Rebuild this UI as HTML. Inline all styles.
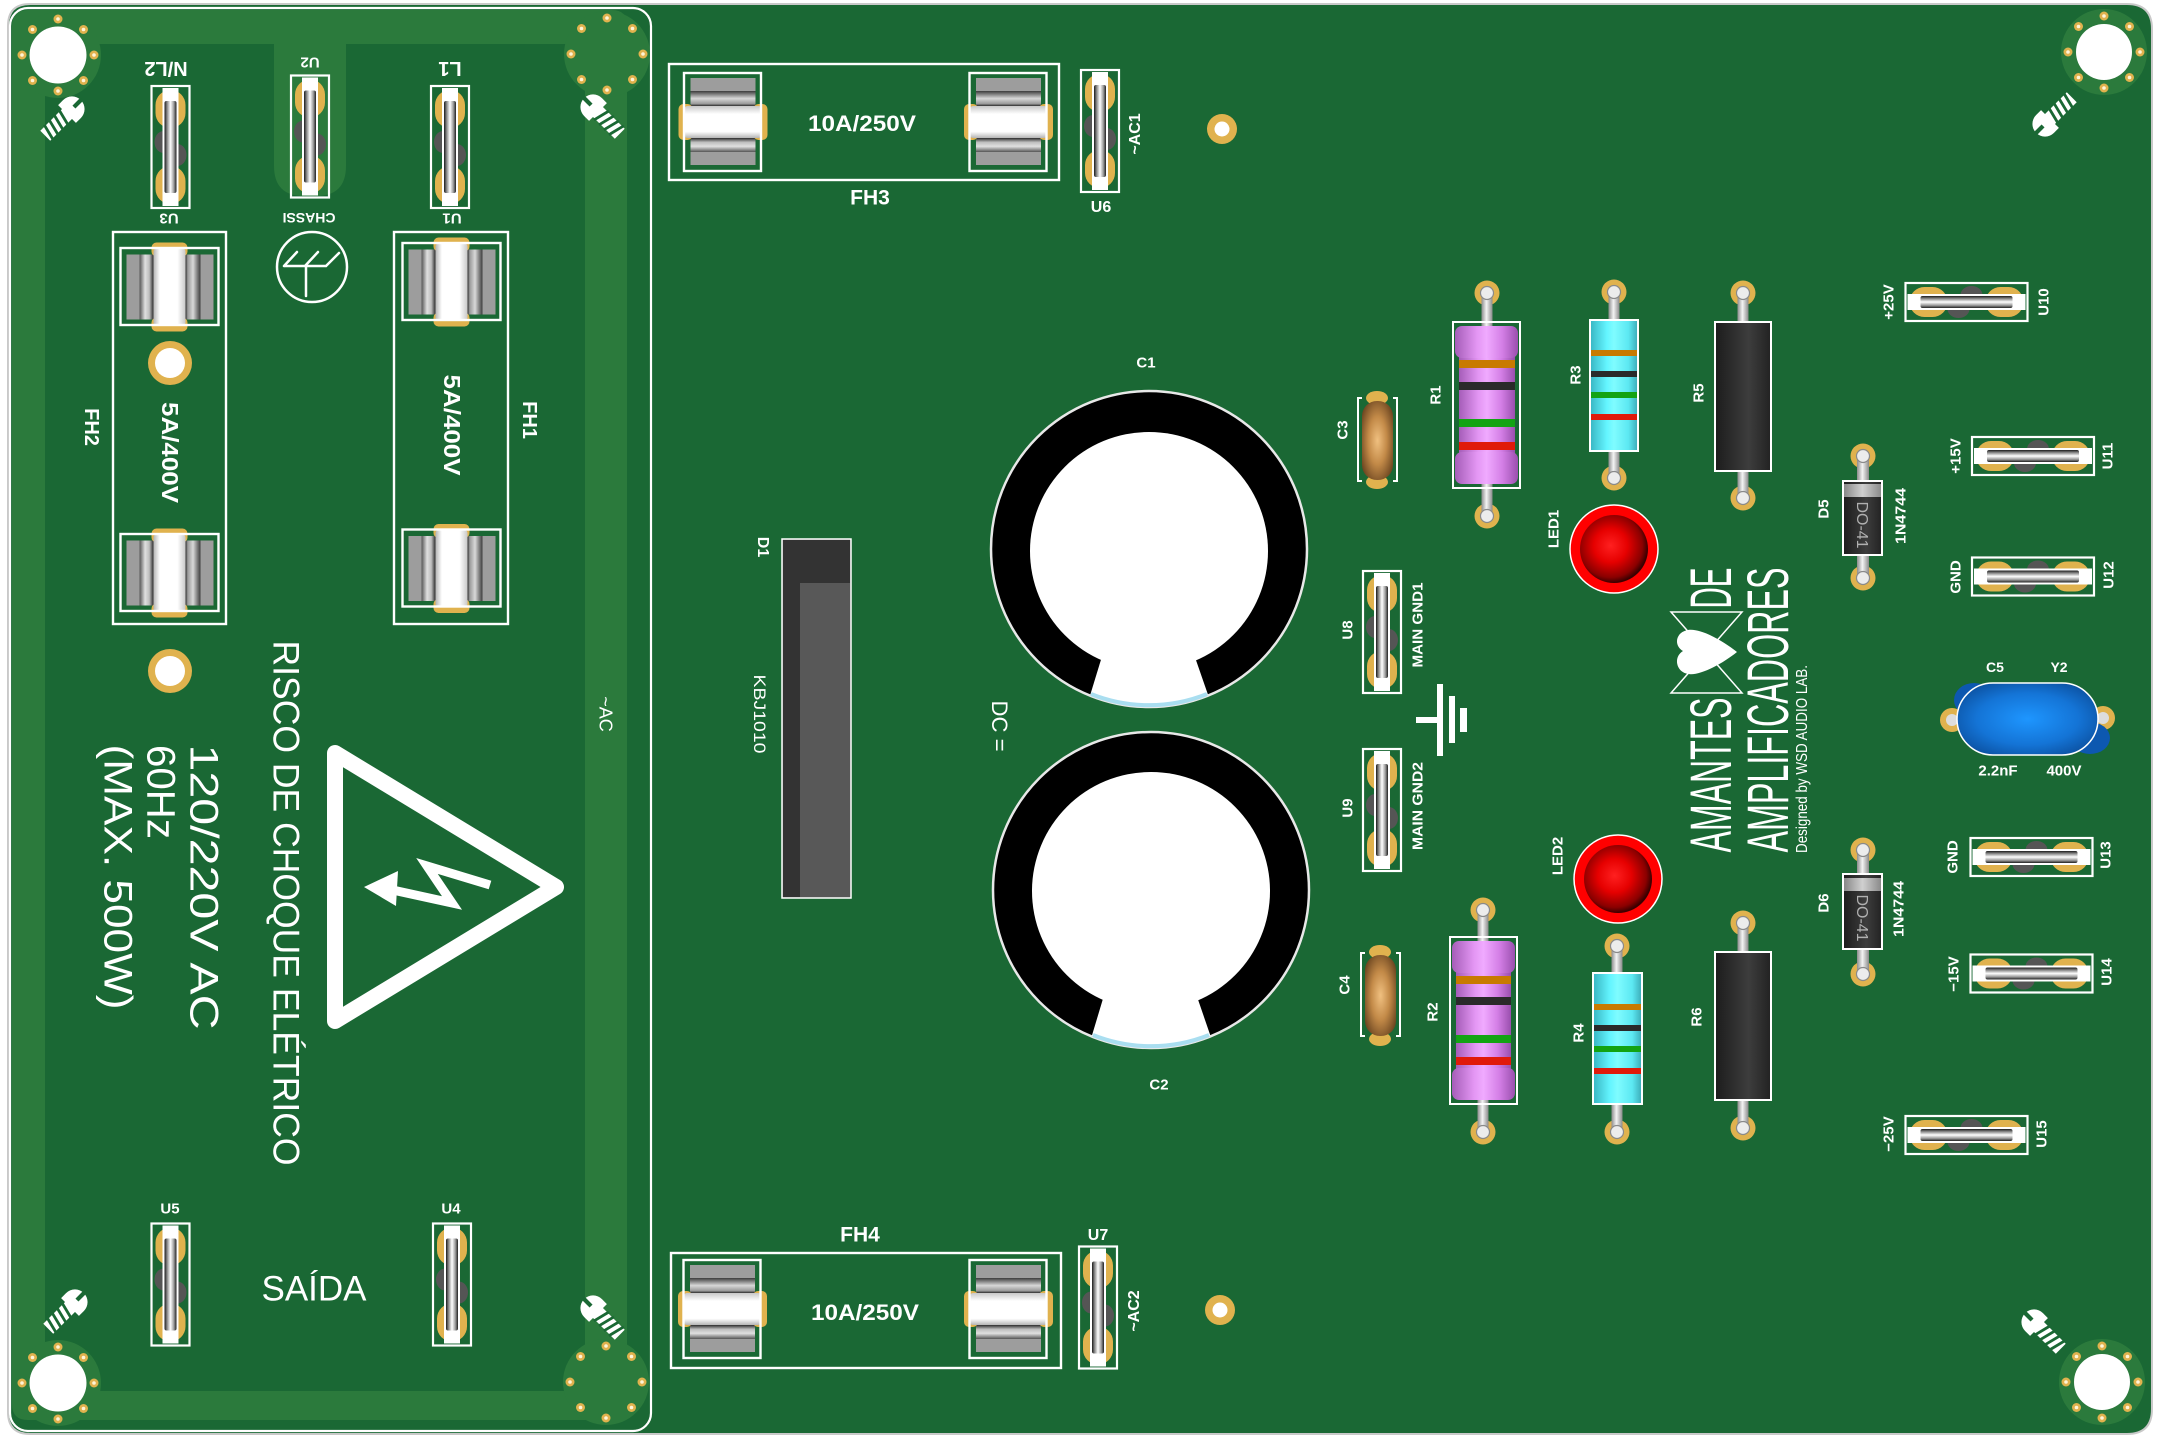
<!DOCTYPE html>
<html><head><meta charset="utf-8">
<style>
html,body{margin:0;padding:0;background:#fff;}
svg{display:block}
.b{font-family:"Liberation Sans",sans-serif;font-weight:bold;fill:#fff;text-anchor:middle}
.r{font-family:"Liberation Sans",sans-serif;font-weight:normal;fill:#fff;text-anchor:middle}
</style></head><body>
<svg width="2160" height="1439" viewBox="0 0 2160 1439" xmlns="http://www.w3.org/2000/svg">
<defs>
<linearGradient id="gBar" x1="0" y1="0" x2="1" y2="0">
 <stop offset="0" stop-color="#1a1a1a"/><stop offset=".22" stop-color="#8a8a8a"/><stop offset=".5" stop-color="#ffffff"/><stop offset=".78" stop-color="#9a9a9a"/><stop offset="1" stop-color="#1f1f1f"/>
</linearGradient>
<linearGradient id="gLead" x1="0" y1="0" x2="1" y2="0">
 <stop offset="0" stop-color="#8c8c8c"/><stop offset=".45" stop-color="#f4f4f4"/><stop offset="1" stop-color="#8a8a8a"/>
</linearGradient>
<linearGradient id="gBandT" x1="0" y1="0" x2="0" y2="1">
 <stop offset="0" stop-color="#3c3c3c"/><stop offset=".5" stop-color="#d8d8d8"/><stop offset=".85" stop-color="#9a9a9a"/><stop offset="1" stop-color="#2c2c2c"/>
</linearGradient>
<linearGradient id="gBandB" x1="0" y1="0" x2="0" y2="1">
 <stop offset="0" stop-color="#2c2c2c"/><stop offset=".3" stop-color="#bdbdbd"/><stop offset=".6" stop-color="#e0e0e0"/><stop offset="1" stop-color="#555"/>
</linearGradient>
<linearGradient id="gTube" x1="0" y1="0" x2="0" y2="1">
 <stop offset="0" stop-color="#c8c8c8"/><stop offset=".25" stop-color="#fff"/><stop offset=".8" stop-color="#fff"/><stop offset="1" stop-color="#b5b5b5"/>
</linearGradient>
<linearGradient id="gPurple" x1="0" y1="0" x2="1" y2="0">
 <stop offset="0" stop-color="#a55db8"/><stop offset=".35" stop-color="#e396f3"/><stop offset=".5" stop-color="#f0aaff"/><stop offset=".75" stop-color="#d47fe6"/><stop offset="1" stop-color="#9a4fae"/>
</linearGradient>
<linearGradient id="gCyan" x1="0" y1="0" x2="1" y2="0">
 <stop offset="0" stop-color="#37b5c2"/><stop offset=".35" stop-color="#64f5ff"/><stop offset=".5" stop-color="#7ffcff"/><stop offset=".8" stop-color="#5ce8f2"/><stop offset="1" stop-color="#3aa9b5"/>
</linearGradient>
<linearGradient id="gBlack" x1="0" y1="0" x2="1" y2="0">
 <stop offset="0" stop-color="#1c1c1c"/><stop offset=".6" stop-color="#3d3d3d"/><stop offset="1" stop-color="#222"/>
</linearGradient>
<linearGradient id="gGray" x1="0" y1="0" x2="1" y2="0">
 <stop offset="0" stop-color="#888"/><stop offset=".5" stop-color="#d0d0d0"/><stop offset="1" stop-color="#8a8a8a"/>
</linearGradient>
<radialGradient id="gLed" cx=".45" cy=".45" r=".55">
 <stop offset="0" stop-color="#ff2020"/><stop offset=".45" stop-color="#e60000"/><stop offset=".85" stop-color="#8a0000"/><stop offset="1" stop-color="#3a0000"/>
</radialGradient>
<radialGradient id="gCer" cx=".5" cy=".5" r=".6">
 <stop offset="0" stop-color="#f0c080"/><stop offset=".5" stop-color="#c38a48"/><stop offset="1" stop-color="#6b4520"/>
</radialGradient>
<radialGradient id="gBlue" cx=".5" cy=".5" r=".6">
 <stop offset="0" stop-color="#1e96ff"/><stop offset=".6" stop-color="#1474d6"/><stop offset="1" stop-color="#0b4f9e"/>
</radialGradient>
<clipPath id="cc1"><circle cx="1149" cy="549" r="157"/></clipPath>
<clipPath id="cc2"><circle cx="1151" cy="890" r="157"/></clipPath>

<g id="jv">
 <ellipse cx="-7" cy="-5" rx="9" ry="11" fill="#555"/>
 <ellipse cx="7" cy="8" rx="9" ry="11" fill="#555"/>
 <rect x="-15" y="-57" width="30" height="38" rx="15" fill="#e0b24e"/>
 <rect x="-15" y="19" width="30" height="38" rx="15" fill="#e0b24e"/>
 <rect x="-8" y="-59" width="16" height="118" fill="#fff"/>
 <rect x="-6" y="-46" width="12" height="92" rx="2" fill="url(#gBar)"/>
 <rect x="-19" y="-61" width="38" height="122" fill="none" stroke="#fff" stroke-width="2.2"/>
</g>
<g id="fc">
 <rect x="-32" y="-44" width="65" height="13" fill="#9d9d9d"/>
 <rect x="-32" y="-31" width="65" height="15" fill="url(#gBandT)"/>
 <rect x="-32" y="16" width="65" height="14" fill="url(#gBandB)"/>
 <rect x="-32" y="30" width="65" height="13" fill="#9d9d9d"/>
 <rect x="-44" y="-18" width="14" height="36" rx="5" fill="#e0b24e"/>
 <rect x="31" y="-18" width="14" height="36" rx="5" fill="#e0b24e"/>
 <rect x="-38" y="-16" width="77" height="32" rx="3" fill="url(#gTube)"/>
 <rect x="-38.5" y="-49" width="77" height="98" fill="none" stroke="#fff" stroke-width="2.4"/>
</g>
<g id="dots">
 <circle cx="36" cy="0" r="4.5" fill="#e0b24e"/><circle cx="36" cy="0" r="1.8" fill="#fff5d8"/>
 <circle cx="25.5" cy="25.5" r="4.5" fill="#e0b24e"/><circle cx="25.5" cy="25.5" r="1.8" fill="#fff5d8"/>
 <circle cx="0" cy="36" r="4.5" fill="#e0b24e"/><circle cx="0" cy="36" r="1.8" fill="#fff5d8"/>
 <circle cx="-25.5" cy="25.5" r="4.5" fill="#e0b24e"/><circle cx="-25.5" cy="25.5" r="1.8" fill="#fff5d8"/>
 <circle cx="-36" cy="0" r="4.5" fill="#e0b24e"/><circle cx="-36" cy="0" r="1.8" fill="#fff5d8"/>
 <circle cx="-25.5" cy="-25.5" r="4.5" fill="#e0b24e"/><circle cx="-25.5" cy="-25.5" r="1.8" fill="#fff5d8"/>
 <circle cx="0" cy="-36" r="4.5" fill="#e0b24e"/><circle cx="0" cy="-36" r="1.8" fill="#fff5d8"/>
 <circle cx="25.5" cy="-25.5" r="4.5" fill="#e0b24e"/><circle cx="25.5" cy="-25.5" r="1.8" fill="#fff5d8"/>
</g>
<g id="scr">
 <path d="M-2,-9 H3 A9,9 0 0 1 3,9 H-2 Z" fill="#fff"/>
 <rect x="-24" y="-5" width="23" height="10" fill="#fff"/>
 <path d="M-19,-6 L-22,6 M-14,-6 L-17,6 M-9,-6 L-12,6 M-4,-6 L-7,6" stroke="#1a6834" stroke-width="2"/>
 <rect x="5" y="-1.5" width="8" height="3" fill="#1a6834"/>
</g>
<g id="via"><circle r="15" fill="#e0b24e"/><circle r="7.5" fill="#fff"/></g>
<g id="via2"><circle r="22" fill="#e0b24e"/><circle r="15" fill="#fff"/></g>
<g id="pad"><circle r="12.5" fill="#e0b24e"/></g>
<g id="lend"><circle r="6.5" fill="#ececec" stroke="#8a8a8a" stroke-width="1.2"/></g>
</defs>

<!-- Board -->
<path d="M30,4 H2127 Q2152,4 2152,29 V1409 Q2152,1434 2127,1434 H30 Q8,1434 8,1412 V26 Q8,4 30,4 Z" fill="#1a6834" stroke="#c9c9c9" stroke-width="2"/>

<!-- Left panel light band -->
<path fill-rule="evenodd" fill="#2b7a3c" d="M28,10 H612 Q627,10 627,25 V1405 Q627,1420 612,1420 H28 Q12,1420 12,1404 V26 Q12,10 28,10 Z M45,44 V1391 H585 V44 Z"/>
<path fill="#2b7a3c" d="M274,40 V166 Q274,196 304,196 H316 Q346,196 346,166 V40 Z"/>
<rect x="10" y="8" width="641" height="1423" rx="18" fill="none" stroke="#fff" stroke-width="2.2"/>

<!-- mounting holes -->
<g transform="translate(58,55)"><circle r="43" fill="#2b7a3c"/><circle r="28.5" fill="#fff"/><use href="#dots"/></g>
<g transform="translate(607,54)"><circle r="43" fill="#2b7a3c"/><use href="#dots"/></g>
<g transform="translate(58,1383)"><circle r="43" fill="#2b7a3c"/><circle r="28.5" fill="#fff"/><use href="#dots"/></g>
<g transform="translate(606,1382)"><circle r="43" fill="#2b7a3c"/><use href="#dots"/></g>
<g transform="translate(2104,52)"><circle r="43" fill="#2b7a3c"/><circle r="28" fill="#fff"/><use href="#dots"/></g>
<g transform="translate(2102,1382)"><circle r="43" fill="#2b7a3c"/><circle r="28" fill="#fff"/><use href="#dots"/></g>

<!-- screws -->
<use href="#scr" transform="translate(69,112) rotate(-45) scale(1.4)"/>
<use href="#scr" transform="translate(596,110) rotate(-135) scale(1.4)"/>
<use href="#scr" transform="translate(2048,121) rotate(135) scale(1.4)"/>
<use href="#scr" transform="translate(72,1305) rotate(-45) scale(1.4)"/>
<use href="#scr" transform="translate(596,1311) rotate(-135) scale(1.4)"/>
<use href="#scr" transform="translate(2037,1325) rotate(-135) scale(1.4)"/>

<!-- Left panel jumpers -->
<use href="#jv" transform="translate(170.5,147)"/>
<use href="#jv" transform="translate(310,136.5)"/>
<use href="#jv" transform="translate(450,147)"/>
<use href="#jv" transform="translate(170.5,1284.5)"/>
<use href="#jv" transform="translate(452,1284.5)"/>

<text class="b" font-size="20" transform="translate(166,69) rotate(180)" dy=".36em">N/L2</text>
<text class="b" font-size="15" transform="translate(310,63) rotate(180)" dy=".36em">U2</text>
<text class="b" font-size="20" transform="translate(450,69) rotate(180)" dy=".36em">L1</text>
<text class="b" font-size="15" transform="translate(169,219) rotate(180)" dy=".36em">U3</text>
<text class="b" font-size="14" transform="translate(309,218) rotate(180)" dy=".36em">CHASSI</text>
<text class="b" font-size="15" transform="translate(452,219) rotate(180)" dy=".36em">U1</text>
<text class="b" font-size="15" x="170" y="1208" dy=".36em">U5</text>
<text class="b" font-size="15" x="451" y="1208" dy=".36em">U4</text>

<!-- chassis symbol -->
<g fill="none" stroke="#fff" stroke-width="2.5" stroke-linecap="round">
 <circle cx="312" cy="267" r="35"/>
 <path d="M284,266 H326 M306,266 V296 M284,266 L297,252 M326,266 L339,253 M305,266 L318,252"/>
</g>

<!-- FH2 / FH1 -->
<rect x="113" y="232" width="113" height="392" fill="none" stroke="#fff" stroke-width="2.4"/>
<use href="#fc" transform="translate(169.5,286.5) rotate(90)"/>
<use href="#fc" transform="translate(169.5,572.5) rotate(90)"/>
<use href="#via2" transform="translate(170,363)"/>
<use href="#via2" transform="translate(170,671)"/>
<text class="b" font-size="23" transform="translate(170.5,452.5) rotate(90)" dy=".36em" textLength="101" lengthAdjust="spacingAndGlyphs">5A/400V</text>
<text class="b" font-size="20" transform="translate(92,427) rotate(90)" dy=".36em">FH2</text>

<rect x="394" y="232" width="114" height="392" fill="none" stroke="#fff" stroke-width="2.4"/>
<use href="#fc" transform="translate(451.5,281.5) rotate(90)"/>
<use href="#fc" transform="translate(451.5,568) rotate(90)"/>
<text class="b" font-size="23" transform="translate(452.5,425) rotate(90)" dy=".36em" textLength="101" lengthAdjust="spacingAndGlyphs">5A/400V</text>
<text class="b" font-size="20" transform="translate(530,420) rotate(90)" dy=".36em">FH1</text>

<!-- warning -->
<path d="M335,753 L335,1021 L556,887 Z" fill="none" stroke="#fff" stroke-width="16" stroke-linejoin="round"/>
<polyline points="388,889 452,903 427,866 490,885" fill="none" stroke="#fff" stroke-width="9" stroke-linejoin="miter"/>
<polygon points="364,887 398,871 396,906" fill="#fff"/>

<text class="r" font-size="37" transform="translate(287,903) rotate(90)" dy=".36em" textLength="525" lengthAdjust="spacingAndGlyphs">RISCO DE CHOQUE ELÉTRICO</text>
<text class="r" font-size="40" transform="translate(205,887) rotate(90)" dy=".36em" textLength="285" lengthAdjust="spacingAndGlyphs">120/220V  AC</text>
<text class="r" font-size="40" transform="translate(162,792) rotate(90)" dy=".36em" textLength="94" lengthAdjust="spacingAndGlyphs">60Hz</text>
<text class="r" font-size="40" transform="translate(119,877) rotate(90)" dy=".36em" textLength="265" lengthAdjust="spacingAndGlyphs">(MAX. 500W)</text>
<text class="r" font-size="35" x="314" y="1288" dy=".36em" textLength="105" lengthAdjust="spacingAndGlyphs">SAÍDA</text>
<text class="r" font-size="18" transform="translate(606,714) rotate(90)" dy=".36em">~AC</text>

<!-- FH3 / FH4 -->
<rect x="669" y="64" width="390" height="116" fill="none" stroke="#fff" stroke-width="2.4"/>
<use href="#fc" transform="translate(722.5,122)"/>
<use href="#fc" transform="translate(1008,122)"/>
<text class="b" font-size="22" x="862" y="123" dy=".36em" textLength="108" lengthAdjust="spacingAndGlyphs">10A/250V</text>
<text class="b" font-size="21" x="870" y="197" dy=".36em">FH3</text>
<use href="#jv" transform="translate(1100,131)"/>
<text class="b" font-size="16" x="1101" y="206" dy=".36em">U6</text>
<text class="b" font-size="16" transform="translate(1134,134) rotate(-90)" dy=".36em">~AC1</text>
<use href="#via" transform="translate(1222,129)"/>

<rect x="671" y="1253" width="390" height="115" fill="none" stroke="#fff" stroke-width="2.4"/>
<use href="#fc" transform="translate(722,1309)"/>
<use href="#fc" transform="translate(1008,1309)"/>
<text class="b" font-size="22" x="865" y="1312" dy=".36em" textLength="108" lengthAdjust="spacingAndGlyphs">10A/250V</text>
<text class="b" font-size="21" x="860" y="1234" dy=".36em">FH4</text>
<use href="#jv" transform="translate(1098,1307.5)"/>
<text class="b" font-size="16" x="1098" y="1234" dy=".36em">U7</text>
<text class="b" font-size="16" transform="translate(1133,1311) rotate(-90)" dy=".36em">~AC2</text>
<use href="#via" transform="translate(1220,1310)"/>

<!-- D1 bridge -->
<rect x="782" y="539" width="69" height="359" fill="#585858" stroke="#fff" stroke-width="1.5"/>
<rect x="783" y="540" width="17" height="357" fill="#333"/>
<rect x="800" y="540" width="50" height="43" fill="#333"/>
<text class="b" font-size="16" transform="translate(764,547) rotate(90)" dy=".36em">D1</text>
<text class="r" font-size="17" transform="translate(760,714) rotate(90)" dy=".36em" textLength="79" lengthAdjust="spacingAndGlyphs">KBJ1010</text>
<text class="r" font-size="22" transform="translate(1000,726) rotate(90)" dy=".36em" textLength="51" lengthAdjust="spacingAndGlyphs">DC =</text>

<!-- C1 -->
<circle cx="1149" cy="549" r="158" fill="#000" stroke="#e8e8e8" stroke-width="2.5"/>
<circle cx="1149" cy="551" r="119" fill="#fff"/>
<polygon points="1107,640 1189,640 1214,712 1085,712" fill="#fff" clip-path="url(#cc1)"/>
<path d="M1091,694 A156,156 0 0 0 1207,694" fill="none" stroke="#a9def0" stroke-width="4"/>
<text class="b" font-size="15" x="1146" y="362" dy=".36em">C1</text>
<!-- C2 -->
<circle cx="1151" cy="890" r="158" fill="#000" stroke="#e8e8e8" stroke-width="2.5"/>
<circle cx="1151" cy="891" r="119" fill="#fff"/>
<polygon points="1108,982 1192,982 1216,1052 1087,1052" fill="#fff" clip-path="url(#cc2)"/>
<path d="M1093,1035 A156,156 0 0 0 1209,1035" fill="none" stroke="#a9def0" stroke-width="4"/>
<text class="b" font-size="15" x="1159" y="1084" dy=".36em">C2</text>

<!-- ground symbol -->
<rect x="1437" y="684" width="6" height="72" fill="#fff"/>
<rect x="1416" y="717" width="21" height="6" fill="#fff"/>
<rect x="1449" y="696" width="6" height="47" fill="#fff"/>
<rect x="1460" y="708" width="7" height="24" fill="#fff"/>

<!-- U8 U9 -->
<use href="#jv" transform="translate(1382,632)"/>
<use href="#jv" transform="translate(1382,810)"/>
<text class="b" font-size="15" transform="translate(1347,630) rotate(-90)" dy=".36em">U8</text>
<text class="b" font-size="15" transform="translate(1417,625) rotate(-90)" dy=".36em" textLength="85" lengthAdjust="spacingAndGlyphs">MAIN  GND1</text>
<text class="b" font-size="15" transform="translate(1347,808) rotate(-90)" dy=".36em">U9</text>
<text class="b" font-size="15" transform="translate(1417,806) rotate(-90)" dy=".36em" textLength="88" lengthAdjust="spacingAndGlyphs">MAIN  GND2</text>

<!-- C3 C4 -->
<ellipse cx="1377" cy="398" rx="11" ry="7" fill="#e0b24e"/>
<ellipse cx="1377" cy="482" rx="11" ry="7" fill="#e0b24e"/>
<rect x="1362" y="401" width="31" height="79" rx="15" fill="url(#gCer)"/>
<path d="M1362,398 H1358 V481 H1362 M1393,398 H1397 V481 H1393" fill="none" stroke="#fff" stroke-width="2"/>
<text class="b" font-size="15" transform="translate(1342,430) rotate(-90)" dy=".36em">C3</text>

<ellipse cx="1380" cy="952" rx="11" ry="7" fill="#e0b24e"/>
<ellipse cx="1380" cy="1039" rx="11" ry="7" fill="#e0b24e"/>
<rect x="1365" y="955" width="31" height="81" rx="15" fill="url(#gCer)"/>
<path d="M1365,953 H1361 V1036 H1365 M1396,953 H1400 V1036 H1396" fill="none" stroke="#fff" stroke-width="2"/>
<text class="b" font-size="15" transform="translate(1344,985) rotate(-90)" dy=".36em">C4</text>

<!-- R1 -->
<use href="#pad" transform="translate(1487,293)"/><use href="#pad" transform="translate(1487,516)"/>
<rect x="1481.5" y="293" width="11" height="40" fill="url(#gLead)"/>
<rect x="1481.5" y="478" width="11" height="38" fill="url(#gLead)"/>
<use href="#lend" transform="translate(1487,293)"/><use href="#lend" transform="translate(1487,516)"/>
<rect x="1453" y="322" width="67" height="166" fill="none" stroke="#fff" stroke-width="2"/>
<rect x="1459" y="352" width="56" height="106" fill="url(#gPurple)"/>
<rect x="1455" y="326" width="63" height="32" rx="7" fill="url(#gPurple)"/>
<rect x="1455" y="452" width="63" height="32" rx="7" fill="url(#gPurple)"/>
<rect x="1459" y="360" width="56" height="8" fill="#c87a00"/>
<rect x="1459" y="382" width="56" height="8" fill="#2a2a2a"/>
<rect x="1459" y="419" width="56" height="8" fill="#13a313"/>
<rect x="1459" y="442" width="56" height="8" fill="#e01a0a"/>
<text class="b" font-size="15" transform="translate(1435,395) rotate(-90)" dy=".36em">R1</text>

<!-- R2 -->
<use href="#pad" transform="translate(1483,910)"/><use href="#pad" transform="translate(1483,1132)"/>
<rect x="1477.5" y="910" width="11" height="40" fill="url(#gLead)"/>
<rect x="1477.5" y="1094" width="11" height="38" fill="url(#gLead)"/>
<use href="#lend" transform="translate(1483,910)"/><use href="#lend" transform="translate(1483,1132)"/>
<rect x="1450" y="937" width="67" height="167" fill="none" stroke="#fff" stroke-width="2"/>
<rect x="1456" y="968" width="55" height="106" fill="url(#gPurple)"/>
<rect x="1452" y="941" width="63" height="32" rx="7" fill="url(#gPurple)"/>
<rect x="1452" y="1068" width="63" height="32" rx="7" fill="url(#gPurple)"/>
<rect x="1456" y="976" width="55" height="8" fill="#c87a00"/>
<rect x="1456" y="997" width="55" height="8" fill="#2a2a2a"/>
<rect x="1456" y="1035" width="55" height="8" fill="#13a313"/>
<rect x="1456" y="1057" width="55" height="8" fill="#e01a0a"/>
<text class="b" font-size="15" transform="translate(1432,1012) rotate(-90)" dy=".36em">R2</text>

<!-- R3 -->
<use href="#pad" transform="translate(1614,292)"/><use href="#pad" transform="translate(1614,478)"/>
<rect x="1608.5" y="292" width="11" height="30" fill="url(#gLead)"/>
<rect x="1608.5" y="450" width="11" height="28" fill="url(#gLead)"/>
<use href="#lend" transform="translate(1614,292)"/><use href="#lend" transform="translate(1614,478)"/>
<rect x="1590" y="320" width="48" height="131" fill="url(#gCyan)" stroke="#fff" stroke-width="2"/>
<rect x="1591" y="350" width="46" height="6" fill="#c87a00"/>
<rect x="1591" y="371" width="46" height="6" fill="#2a2a2a"/>
<rect x="1591" y="392" width="46" height="6" fill="#13a313"/>
<rect x="1591" y="414" width="46" height="6" fill="#e01a0a"/>
<text class="b" font-size="15" transform="translate(1575,375) rotate(-90)" dy=".36em">R3</text>

<!-- R4 -->
<use href="#pad" transform="translate(1617,946)"/><use href="#pad" transform="translate(1617,1132)"/>
<rect x="1611.5" y="946" width="11" height="28" fill="url(#gLead)"/>
<rect x="1611.5" y="1103" width="11" height="29" fill="url(#gLead)"/>
<use href="#lend" transform="translate(1617,946)"/><use href="#lend" transform="translate(1617,1132)"/>
<rect x="1593" y="973" width="49" height="131" fill="url(#gCyan)" stroke="#fff" stroke-width="2"/>
<rect x="1594" y="1004" width="47" height="6" fill="#c87a00"/>
<rect x="1594" y="1025" width="47" height="6" fill="#2a2a2a"/>
<rect x="1594" y="1046" width="47" height="6" fill="#13a313"/>
<rect x="1594" y="1068" width="47" height="6" fill="#e01a0a"/>
<text class="b" font-size="15" transform="translate(1578,1033) rotate(-90)" dy=".36em">R4</text>

<!-- R5 -->
<use href="#pad" transform="translate(1743,293)"/><use href="#pad" transform="translate(1743,498)"/>
<rect x="1737.5" y="293" width="11" height="30" fill="url(#gLead)"/>
<rect x="1737.5" y="470" width="11" height="28" fill="url(#gLead)"/>
<use href="#lend" transform="translate(1743,293)"/><use href="#lend" transform="translate(1743,498)"/>
<rect x="1715" y="322" width="56" height="149" fill="url(#gBlack)" stroke="#fff" stroke-width="2"/>
<text class="b" font-size="15" transform="translate(1698,393) rotate(-90)" dy=".36em">R5</text>

<!-- R6 -->
<use href="#pad" transform="translate(1743,923)"/><use href="#pad" transform="translate(1743,1128)"/>
<rect x="1737.5" y="923" width="11" height="30" fill="url(#gLead)"/>
<rect x="1737.5" y="1099" width="11" height="29" fill="url(#gLead)"/>
<use href="#lend" transform="translate(1743,923)"/><use href="#lend" transform="translate(1743,1128)"/>
<rect x="1715" y="952" width="56" height="148" fill="url(#gBlack)" stroke="#fff" stroke-width="2"/>
<text class="b" font-size="15" transform="translate(1696,1017) rotate(-90)" dy=".36em">R6</text>

<!-- LEDs -->
<circle cx="1614" cy="549" r="44" fill="#ff0000" stroke="#fff" stroke-width="1.5"/>
<circle cx="1614" cy="549" r="34" fill="url(#gLed)"/>
<text class="b" font-size="15" transform="translate(1553,529) rotate(-90)" dy=".36em">LED1</text>
<circle cx="1618" cy="879" r="44" fill="#ff0000" stroke="#fff" stroke-width="1.5"/>
<circle cx="1618" cy="879" r="34" fill="url(#gLed)"/>
<text class="b" font-size="15" transform="translate(1557,856) rotate(-90)" dy=".36em">LED2</text>

<!-- Logo -->
<g fill="none" stroke="#fff" stroke-width="1.5">
 <path d="M1671,612 H1742 L1671,693 H1742 Z"/>
</g>
<path d="M1737,652 C1722,640 1700,628 1688,630 C1676,632 1673,645 1683,651 C1673,657 1676,672 1688,674 C1700,676 1722,664 1737,652 Z" fill="#fff"/>
<text class="r" font-size="58" transform="translate(1710,588) rotate(-90)" dy=".36em" textLength="41" lengthAdjust="spacingAndGlyphs">DE</text>
<text class="r" font-size="58" transform="translate(1710,775) rotate(-90)" dy=".36em" textLength="155" lengthAdjust="spacingAndGlyphs">AMANTES</text>
<text class="r" font-size="58" transform="translate(1767,710) rotate(-90)" dy=".36em" textLength="285" lengthAdjust="spacingAndGlyphs">AMPLIFICADORES</text>
<text class="r" font-size="16" transform="translate(1801,759) rotate(-90)" dy=".36em" textLength="188" lengthAdjust="spacingAndGlyphs">Designed by WSD AUDIO LAB.</text>

<!-- Diodes -->
<use href="#pad" transform="translate(1863,456)"/><use href="#pad" transform="translate(1863,578)"/>
<rect x="1857" y="456" width="12" height="122" fill="url(#gLead)"/>
<use href="#lend" transform="translate(1863,456)"/><use href="#lend" transform="translate(1863,578)"/>
<rect x="1843" y="481" width="39" height="74" fill="url(#gBlack)" stroke="#fff" stroke-width="2"/>
<rect x="1844" y="484" width="37" height="13" fill="url(#gGray)"/>
<text class="r" font-size="16" style="fill:#b0b0b0" transform="translate(1863,525) rotate(90)" dy=".36em">DO-41</text>
<text class="b" font-size="15" transform="translate(1823,509) rotate(-90)" dy=".36em">D5</text>
<text class="b" font-size="15" transform="translate(1900,516) rotate(-90)" dy=".36em" textLength="56" lengthAdjust="spacingAndGlyphs">1N4744</text>

<use href="#pad" transform="translate(1863,850)"/><use href="#pad" transform="translate(1863,974)"/>
<rect x="1857" y="850" width="12" height="124" fill="url(#gLead)"/>
<use href="#lend" transform="translate(1863,850)"/><use href="#lend" transform="translate(1863,974)"/>
<rect x="1843" y="874" width="39" height="75" fill="url(#gBlack)" stroke="#fff" stroke-width="2"/>
<rect x="1844" y="878" width="37" height="13" fill="url(#gGray)"/>
<text class="r" font-size="16" style="fill:#b0b0b0" transform="translate(1863,918) rotate(90)" dy=".36em">DO-41</text>
<text class="b" font-size="15" transform="translate(1823,903) rotate(-90)" dy=".36em">D6</text>
<text class="b" font-size="15" transform="translate(1898,909) rotate(-90)" dy=".36em" textLength="56" lengthAdjust="spacingAndGlyphs">1N4744</text>

<!-- horizontal jumpers -->
<use href="#jv" transform="translate(1966.5,302) rotate(90)"/>
<use href="#jv" transform="translate(2033,456) rotate(90)"/>
<use href="#jv" transform="translate(2033,576.5) rotate(90)"/>
<use href="#jv" transform="translate(2031.5,857) rotate(90)"/>
<use href="#jv" transform="translate(2031.5,973.5) rotate(90)"/>
<use href="#jv" transform="translate(1966.5,1135) rotate(90)"/>
<text class="b" font-size="15" transform="translate(1888,302) rotate(-90)" dy=".36em">+25V</text>
<text class="b" font-size="15" transform="translate(2043,302) rotate(-90)" dy=".36em">U10</text>
<text class="b" font-size="15" transform="translate(1955,456) rotate(-90)" dy=".36em">+15V</text>
<text class="b" font-size="15" transform="translate(2107,456) rotate(-90)" dy=".36em">U11</text>
<text class="b" font-size="15" transform="translate(1955,577) rotate(-90)" dy=".36em">GND</text>
<text class="b" font-size="15" transform="translate(2108,575) rotate(-90)" dy=".36em">U12</text>
<text class="b" font-size="15" transform="translate(1952,857) rotate(-90)" dy=".36em">GND</text>
<text class="b" font-size="15" transform="translate(2105,855) rotate(-90)" dy=".36em">U13</text>
<text class="b" font-size="15" transform="translate(1953,974) rotate(-90)" dy=".36em">−15V</text>
<text class="b" font-size="15" transform="translate(2106,972) rotate(-90)" dy=".36em">U14</text>
<text class="b" font-size="15" transform="translate(1888,1134) rotate(-90)" dy=".36em">−25V</text>
<text class="b" font-size="15" transform="translate(2041,1134) rotate(-90)" dy=".36em">U15</text>

<!-- C5 Y2 -->
<circle cx="1952" cy="720" r="12" fill="#e0b24e"/><circle cx="1952" cy="720" r="6" fill="#ddd"/>
<circle cx="2103" cy="718" r="12" fill="#e0b24e"/><circle cx="2103" cy="718" r="6" fill="#ddd"/>
<ellipse cx="1974" cy="700" rx="20" ry="17" fill="#0d58b0"/>
<ellipse cx="2090" cy="738" rx="20" ry="16" fill="#0d58b0"/>
<rect x="1957" y="683" width="141" height="72" rx="36" fill="url(#gBlue)" stroke="#fff" stroke-width="1.5"/>
<text class="b" font-size="14" x="1995" y="667" dy=".36em">C5</text>
<text class="b" font-size="14" x="2059" y="667" dy=".36em">Y2</text>
<text class="b" font-size="15" x="1998" y="770" dy=".36em">2.2nF</text>
<text class="b" font-size="15" x="2064" y="770" dy=".36em">400V</text>
</svg>
</body></html>
